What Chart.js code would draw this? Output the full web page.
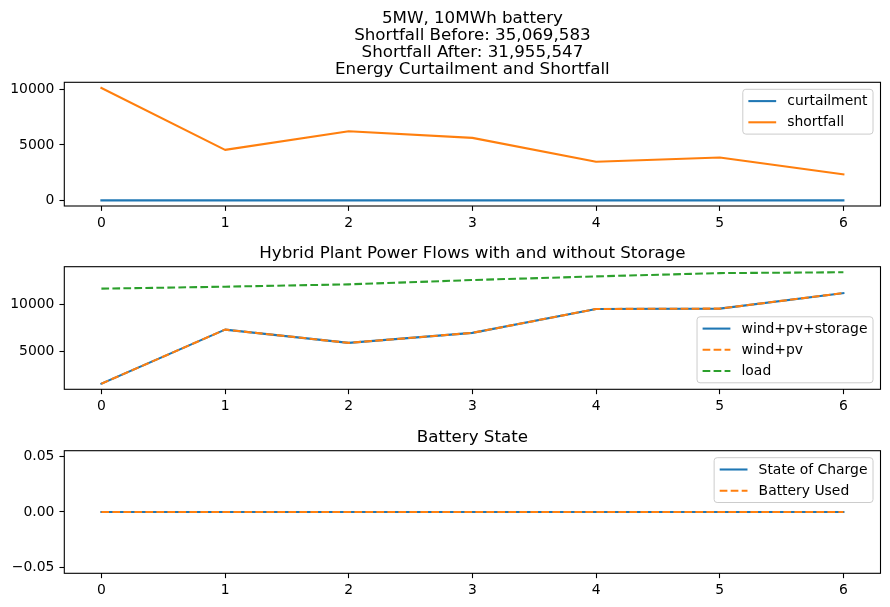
<!DOCTYPE html>
<html><head><meta charset="utf-8">
<script src="https://cdn.jsdelivr.net/npm/chart.js@4.4.0/dist/chart.umd.min.js"></script>
<style>
html,body{margin:0;padding:0;background:#fff;}
#wrap{position:relative;width:890px;height:607px;overflow:hidden;background:#fff;}
canvas{position:absolute;left:0;}
</style></head><body>
<div id="wrap">
<canvas id="c1" style="top:0px"></canvas>
<canvas id="c2" style="top:240px"></canvas>
<canvas id="c3" style="top:420px"></canvas>
</div>
<script>
// ---- data ----
const steps = [0, 1, 2, 3, 4, 5, 6];
const xTickLabels = ['0', '1', '2', '3', '4', '5', '6'];

const curtailment = [0, 0, 0, 0, 0, 0, 0];
const shortfall = [10150, 4560, 6240, 5640, 3480, 3870, 2340];

const windPvStorage = [1520, 7300, 5880, 6950, 9500, 9540, 11200];
const windPv = [1520, 7300, 5880, 6950, 9500, 9540, 11200];
const load = [11670, 11880, 12130, 12590, 12980, 13330, 13420];

const stateOfCharge = [0, 0, 0, 0, 0, 0, 0];
const batteryUsed = [0, 0, 0, 0, 0, 0, 0];

const yTicks1 = [0, 5000, 10000];
const yTickLabels1 = ['0', '5000', '10000'];
const yTicks2 = [5000, 10000];
const yTickLabels2 = ['5000', '10000'];
const yTicks3 = [-0.05, 0, 0.05];
const yTickLabels3 = ['\u22120.05', '0.00', '0.05'];

const title1 = ['5MW, 10MWh battery', 'Shortfall Before: 35,069,583', 'Shortfall After: 31,955,547', 'Energy Curtailment and Shortfall'];
const title2 = ['Hybrid Plant Power Flows with and without Storage'];
const title3 = ['Battery State'];

// ---- style ----
const FONT = '"DejaVu Sans", "Liberation Sans", sans-serif';
const BLUE = '#1f77b4', ORANGE = '#ff7f0e', GREEN = '#2ca02c';
const LW = 2.08;
const DASH = [7.7, 3.3];

function pts(arr) { return steps.map((x, i) => ({ x: x, y: arr[i] })); }
function autoLimits(arrs) {
  const all = [].concat(...arrs);
  const lo = Math.min(...all), hi = Math.max(...all);
  const m = (hi - lo) * 0.05;
  return [lo - m, hi + m];
}

const framePlugin = {
  id: 'frame',
  afterDatasetsDraw(chart) {
    const ca = chart.chartArea, ctx = chart.ctx;
    ctx.save();
    ctx.strokeStyle = '#000';
    ctx.lineWidth = 1.1;
    ctx.strokeRect(ca.left, ca.top, ca.right - ca.left, ca.bottom - ca.top);
    ctx.restore();
  }
};

const titlePlugin = {
  id: 'mplTitle',
  afterDraw(chart, args, opts) {
    const ca = chart.chartArea, ctx = chart.ctx;
    const lines = opts.lines || [];
    ctx.save();
    ctx.font = '16.7px ' + FONT;
    ctx.fillStyle = '#000';
    ctx.textAlign = 'center';
    ctx.textBaseline = 'alphabetic';
    const cx = (ca.left + ca.right) / 2;
    const n = lines.length;
    lines.forEach((t, i) => {
      ctx.fillText(t, cx, ca.top - 8.8 - (n - 1 - i) * 16.7);
    });
    ctx.restore();
  }
};

const legendPlugin = {
  id: 'mplLegend',
  afterDraw(chart, args, opts) {
    const ca = chart.chartArea, ctx = chart.ctx;
    const fs = 13.9;
    const items = chart.data.datasets;
    ctx.save();
    ctx.font = fs + 'px ' + FONT;
    const textW = Math.max(...items.map(d => ctx.measureText(d.label).width));
    const pad = 0.4 * fs, handle = 2 * fs, gap = 0.8 * fs;
    const w = pad + handle + gap + textW + pad;
    const step = 21.2, padY = 11.8;
    const h = 2 * padY + (items.length - 1) * step;
    const x = ca.right - 7.5 - w;
    const y = opts.loc === 'lower' ? ca.bottom - 6.5 - h : ca.top + 7;
    const r = 3;
    ctx.beginPath();
    ctx.moveTo(x + r, y);
    ctx.lineTo(x + w - r, y); ctx.quadraticCurveTo(x + w, y, x + w, y + r);
    ctx.lineTo(x + w, y + h - r); ctx.quadraticCurveTo(x + w, y + h, x + w - r, y + h);
    ctx.lineTo(x + r, y + h); ctx.quadraticCurveTo(x, y + h, x, y + h - r);
    ctx.lineTo(x, y + r); ctx.quadraticCurveTo(x, y, x + r, y);
    ctx.closePath();
    ctx.fillStyle = 'rgba(255,255,255,0.8)';
    ctx.fill();
    ctx.strokeStyle = '#cccccc';
    ctx.lineWidth = 1;
    ctx.stroke();
    items.forEach((d, i) => {
      const cy = y + padY + i * step;
      ctx.beginPath();
      ctx.setLineDash(d.borderDash || []);
      ctx.strokeStyle = d.borderColor;
      ctx.lineWidth = d.borderWidth;
      ctx.moveTo(x + pad, cy);
      ctx.lineTo(x + pad + handle, cy);
      ctx.stroke();
      ctx.setLineDash([]);
      ctx.fillStyle = '#000';
      ctx.textAlign = 'left';
      ctx.textBaseline = 'middle';
      ctx.fillText(d.label, x + pad + handle + gap, cy + 0.5);
    });
    ctx.restore();
  }
};

function ds(label, arr, color, dashed, order) {
  return {
    label: label, data: pts(arr), borderColor: color, backgroundColor: color,
    borderWidth: LW, borderDash: dashed ? DASH : [], pointRadius: 0, tension: 0,
    fill: false, borderCapStyle: dashed ? 'butt' : 'square', borderJoinStyle: 'round',
    order: order
  };
}

function mk(id, h, topSpace, xAxisH, datasets, lim, yTicks, yLabels, titleLines, legendLoc) {
  const cv = document.getElementById(id);
  cv.style.width = '890px';
  cv.style.height = h + 'px';
  const tickFont = { family: FONT, size: 13.9 };
  return new Chart(cv, {
    type: 'line',
    data: { datasets: datasets },
    options: {
      responsive: false, maintainAspectRatio: false, animation: false,
      layout: { padding: { left: 0, right: 9.5, top: topSpace, bottom: 0 } },
      plugins: {
        legend: { display: false }, tooltip: { enabled: false }, title: { display: false },
        mplTitle: { lines: titleLines },
        mplLegend: { loc: legendLoc }
      },
      scales: {
        x: {
          type: 'linear', min: -0.3, max: 6.3,
          afterBuildTicks: s => { s.ticks = steps.map(v => ({ value: v })); },
          afterFit: s => { s.height = xAxisH; },
          ticks: {
            color: '#000', font: tickFont, padding: 4, maxRotation: 0, autoSkip: false,
            callback: v => xTickLabels[steps.indexOf(v)]
          },
          grid: { display: true, drawOnChartArea: false, drawTicks: true, tickLength: 4.86, tickColor: '#000', tickWidth: 1.1 },
          border: { display: false }
        },
        y: {
          type: 'linear', min: lim[0], max: lim[1],
          afterBuildTicks: s => { s.ticks = yTicks.map(v => ({ value: v })); },
          afterFit: s => { s.width = 64.3; },
          ticks: {
            color: '#000', font: tickFont, padding: 5,
            callback: v => yLabels[yTicks.indexOf(v)]
          },
          grid: { display: true, drawOnChartArea: false, drawTicks: true, tickLength: 4.86, tickColor: '#000', tickWidth: 1.1 },
          border: { display: false }
        }
      }
    },
    plugins: [framePlugin, titlePlugin, legendPlugin]
  });
}

// canvas sizes
document.getElementById('c1').width = 890; document.getElementById('c1').height = 240;
document.getElementById('c2').width = 890; document.getElementById('c2').height = 180;
document.getElementById('c3').width = 890; document.getElementById('c3').height = 187;

// higher 'order' is drawn first (underneath), so later series sit on top as in the reference
mk('c1', 240, 82.3, 34,
  [ds('curtailment', curtailment, BLUE, false, 2), ds('shortfall', shortfall, ORANGE, false, 1)],
  autoLimits([curtailment, shortfall]), yTicks1, yTickLabels1, title1, 'upper');

mk('c2', 180, 26.7, 30.7,
  [ds('wind+pv+storage', windPvStorage, BLUE, false, 3), ds('wind+pv', windPv, ORANGE, true, 2), ds('load', load, GREEN, true, 1)],
  autoLimits([windPvStorage, windPv, load]), yTicks2, yTickLabels2, title2, 'lower');

mk('c3', 187, 30.7, 33.7,
  [ds('State of Charge', stateOfCharge, BLUE, false, 2), ds('Battery Used', batteryUsed, ORANGE, true, 1)],
  [-0.055, 0.055], yTicks3, yTickLabels3, title3, 'upper');
</script>
</body></html>
